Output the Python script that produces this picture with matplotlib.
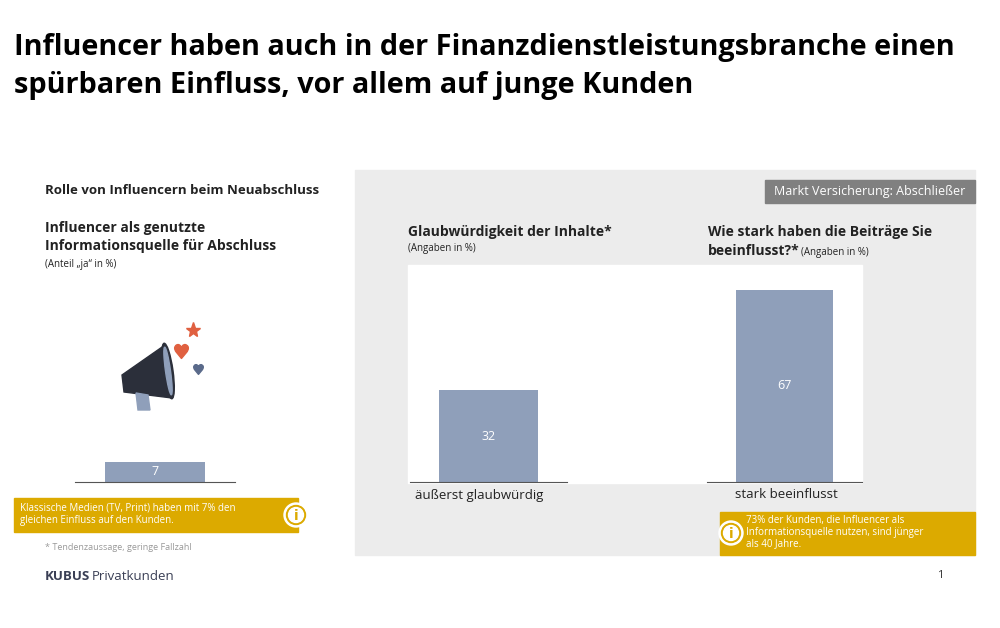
import matplotlib.pyplot as plt
from matplotlib.patches import Rectangle, Polygon, Circle, Ellipse

left_cat = [""]
left_val = [7]
glaub_cat = ["äußerst glaubwürdig"]
glaub_val = [32]
einfl_cat = ["stark beeinflusst"]
einfl_val = [67]

W, H = 1000, 628
BAR = "#8f9fba"
YEL = "#dcaa00"
PXU = 2.87  # pixels per percent

fig = plt.figure(figsize=(10, 6.28), dpi=100)
bg = fig.add_axes([0, 0, 1, 1])
bg.set_xlim(0, W)
bg.set_ylim(H, 0)
bg.axis("off")

def txt(x, y, s, size=9, bold=False, color="#222222", **kw):
    bg.text(x, y, s, fontsize=size, fontweight="bold" if bold else "normal",
            color=color, va="center", ha=kw.pop("ha", "left"),
            family="Open Sans", **kw)

# title
txt(14, 48, "Influencer haben auch in der Finanzdienstleistungsbranche einen", 20.8, True, "black")
txt(14, 85, "spürbaren Einfluss, vor allem auf junge Kunden", 20.8, True, "black")

# grey panel
bg.add_patch(Rectangle((355, 170), 620, 385, color="#ececec", zorder=0))
bg.add_patch(Rectangle((765, 180), 210, 23, color="#808080"))
txt(870, 191, "Markt Versicherung: Abschließer", 9, color="white", ha="center")
bg.add_patch(Rectangle((408, 265), 454, 218, color="white", zorder=0.5))

# left texts
txt(45, 190, "Rolle von Influencern beim Neuabschluss", 9.5, True)
txt(45, 228, "Influencer als genutzte", 10, True)
txt(45, 246, "Informationsquelle für Abschluss", 10, True)
txt(45, 264, "(Anteil „ja“ in %)", 7)

# megaphone icon
bg.add_patch(Polygon([[122, 375], [165, 345], [172, 398], [124, 392]], color="#2b2f3a"))
bg.add_patch(Ellipse((168, 371), 10, 56, angle=-8, color="#2b2f3a"))
bg.add_patch(Ellipse((168, 371), 5, 48, angle=-8, color="#8f9fba"))
bg.add_patch(Polygon([[136, 393], [148, 395], [150, 410], [138, 410]], color="#8f9fba"))
bg.plot(193, 330, marker="*", ms=11, color="#e06040")
bg.plot(181, 351, marker="$\u2665$", ms=10, color="#e06040")
bg.plot(198, 369, marker="$\u2665$", ms=7, color="#5a6a8a")

# right headings
txt(408, 232, "Glaubwürdigkeit der Inhalte*", 10, True)
txt(408, 249, "(Angaben in %)", 7)
txt(708, 232, "Wie stark haben die Beiträge Sie", 10, True)
txt(708, 251, "beeinflusst?*", 10, True)
txt(801, 252, "(Angaben in %)", 7)

def bar_axes(x0, x1, cats, vals):
    top = 265
    ax = fig.add_axes([x0 / W, 1 - 482 / H, (x1 - x0) / W, (482 - top) / H])
    ax.set_ylim(0, (482 - top) / PXU)
    ax.set_xlim(-0.8, 0.8)
    ax.patch.set_alpha(0)
    for s in ["top", "right", "left"]:
        ax.spines[s].set_visible(False)
    ax.spines["bottom"].set_color("#555555")
    ax.spines["bottom"].set_linewidth(0.8)
    ax.set_yticks([])
    bars = ax.bar(range(len(vals)), vals, width=1.0, color=BAR)
    for b, v in zip(bars, vals):
        ax.text(b.get_x() + b.get_width() / 2, v / 2, str(v), ha="center",
                va="center", color="white", fontsize=9, family="Open Sans")
    ax.set_xticks([])
    return ax

bar_axes(75, 235, left_cat, left_val)
bar_axes(410, 567, glaub_cat, glaub_val)
bar_axes(707, 862, einfl_cat, einfl_val)
txt(415, 495, glaub_cat[0], 9.5)
txt(735, 495, einfl_cat[0], 9.5)

# info boxes
def info(x, y):
    bg.add_patch(Circle((x, y), 12, color="white", zorder=3))
    bg.add_patch(Circle((x, y), 9.5, color=YEL, zorder=3))
    bg.add_patch(Circle((x, y), 7.5, color="white", zorder=3))
    bg.text(x, y + 1, "i", ha="center", va="center", color=YEL, fontsize=10,
            fontweight="bold", zorder=4)

bg.add_patch(Rectangle((14, 498), 284, 34, color=YEL))
txt(20, 508, "Klassische Medien (TV, Print) haben mit 7% den", 7, color="white")
txt(20, 521, "gleichen Einfluss auf den Kunden.", 7, color="white")
info(296, 515)

bg.add_patch(Rectangle((720, 512), 255, 43, color=YEL))
txt(746, 520, "73% der Kunden, die Influencer als", 7, color="white")
txt(746, 532, "Informationsquelle nutzen, sind jünger", 7, color="white")
txt(746, 544, "als 40 Jahre.", 7, color="white")
info(731, 533)

txt(45, 548, "* Tendenzaussage, geringe Fallzahl", 6.5, color="#999999")
txt(45, 576, "KUBUS", 9.5, True, "#3a3f55")
txt(92, 576, "Privatkunden", 9.5, color="#3a3f55")
txt(937, 576, "1", 8, color="#333333")

fig.savefig("out.png", dpi=100)
